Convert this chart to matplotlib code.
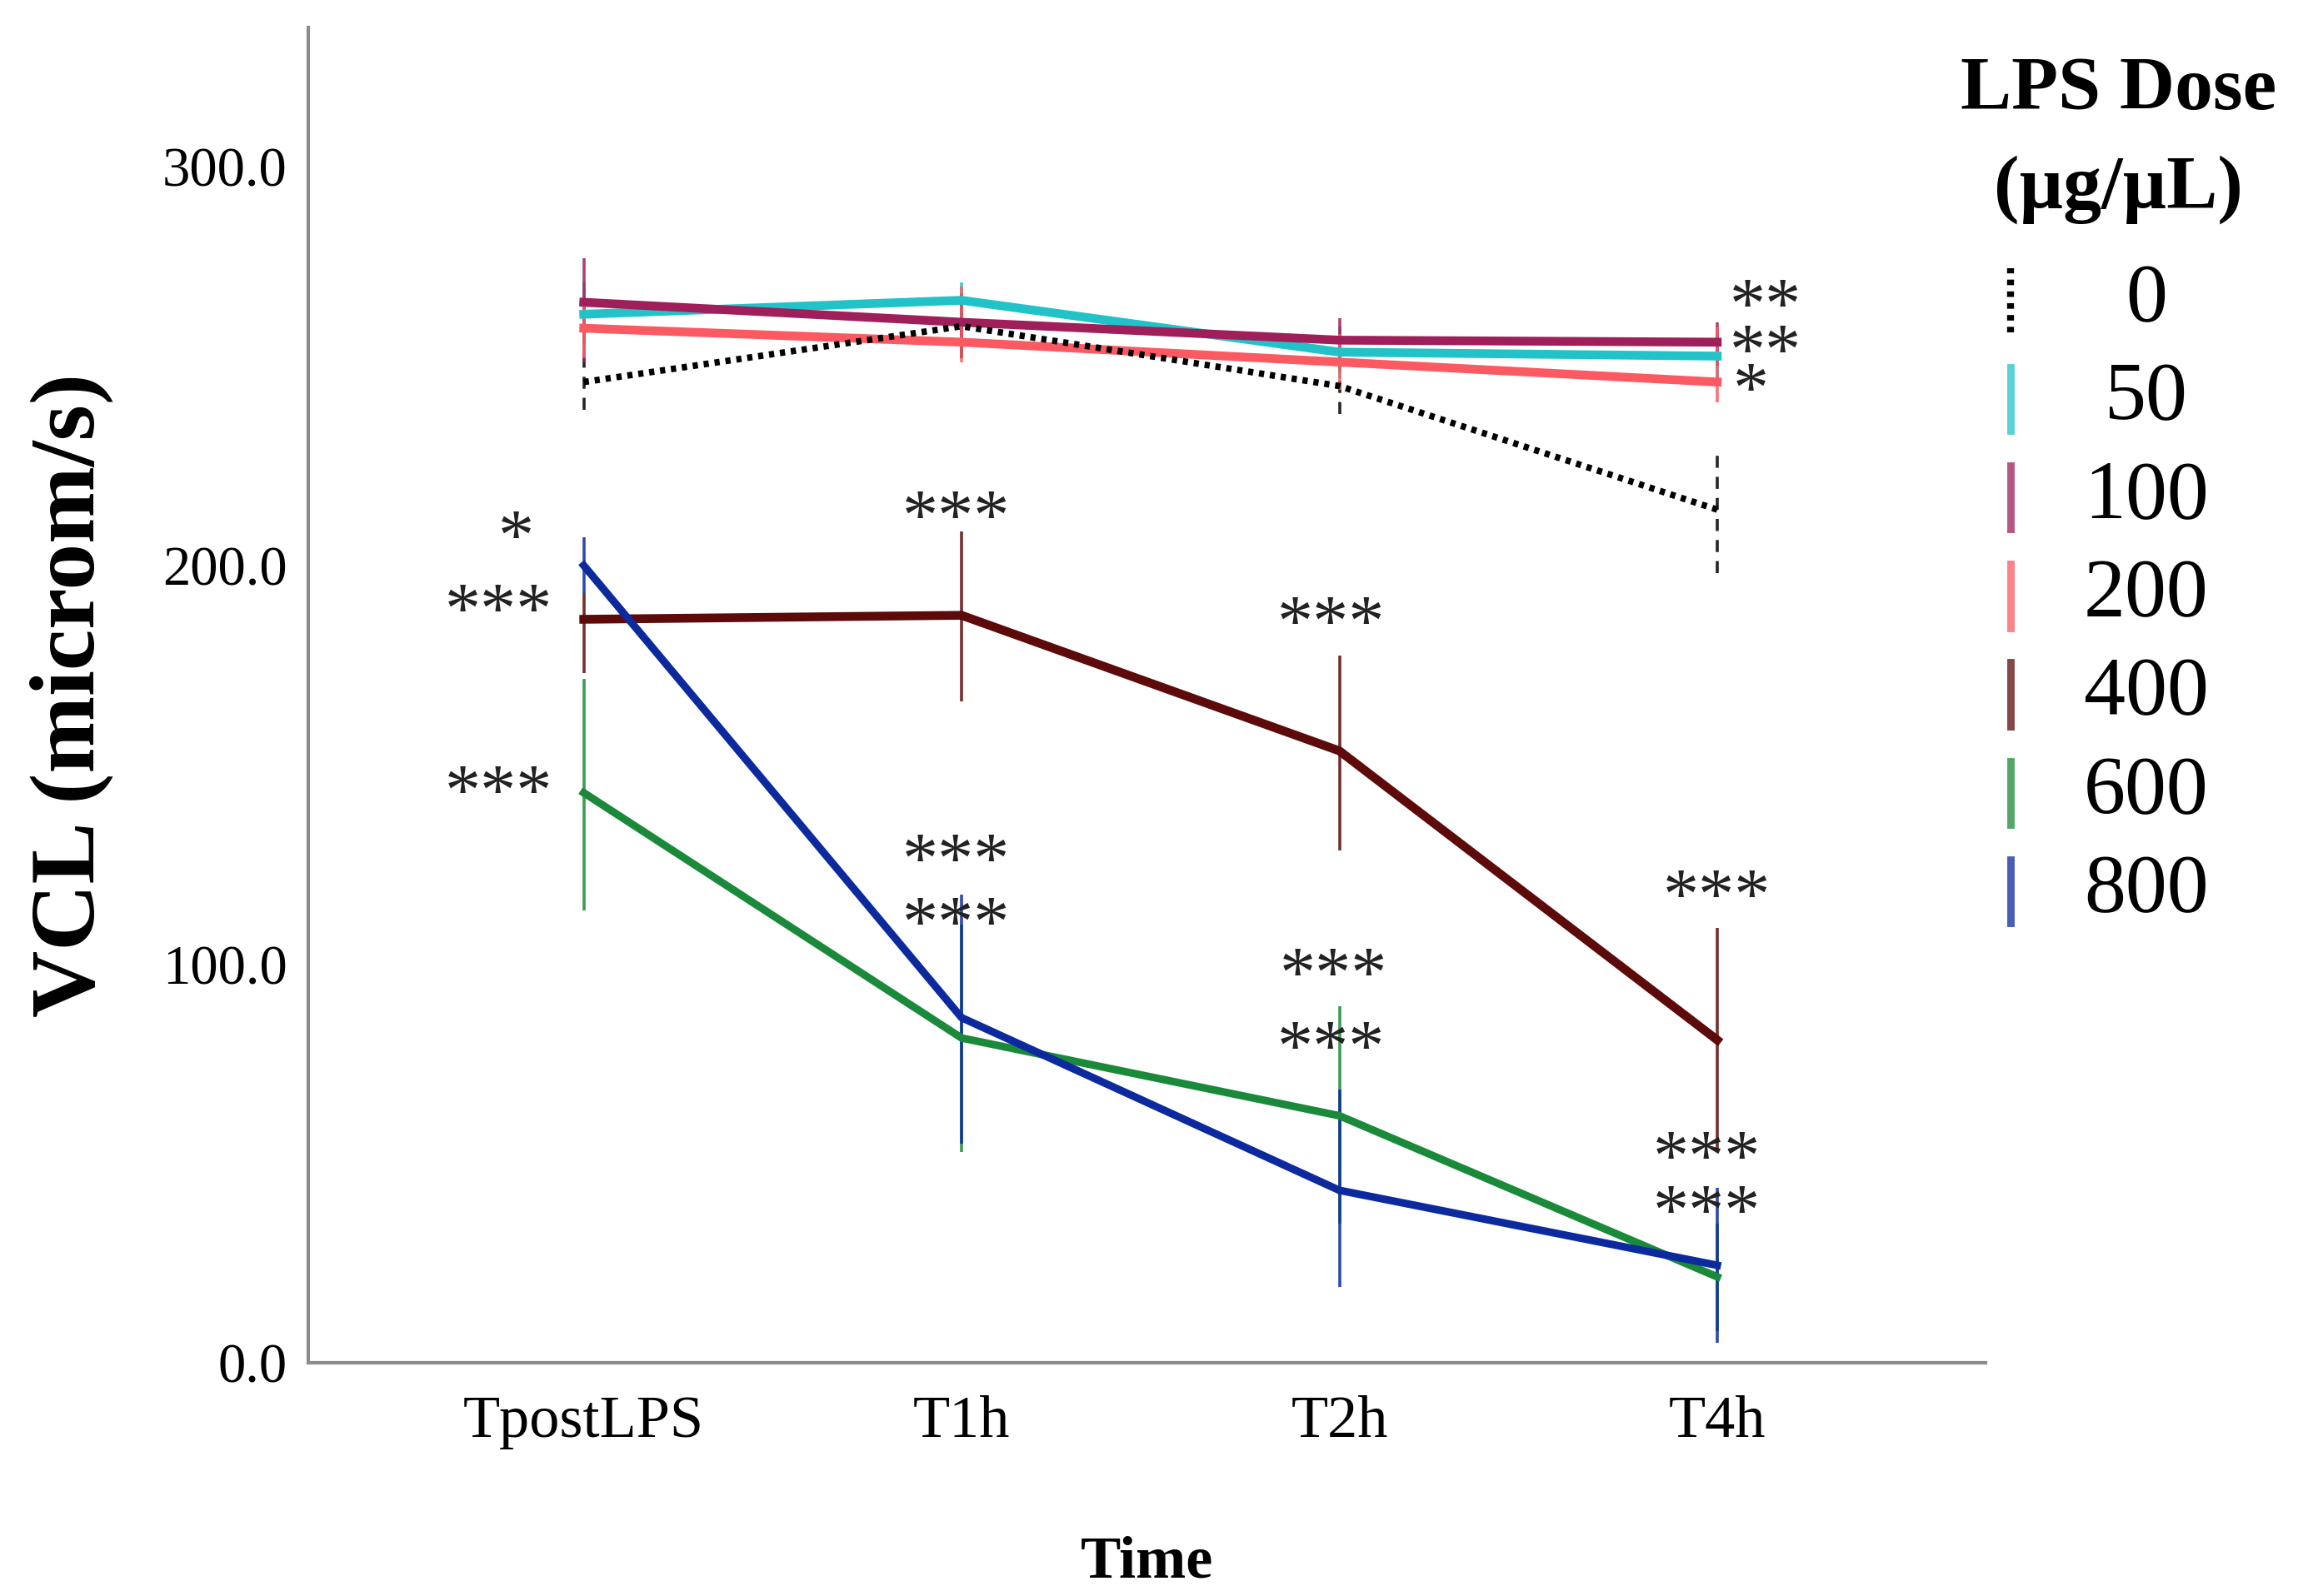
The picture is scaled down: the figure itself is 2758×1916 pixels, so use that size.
import matplotlib.pyplot as plt
from matplotlib.lines import Line2D
import numpy as np

plt.rcParams['font.family'] = ['Liberation Serif', 'DejaVu Serif']

# time points on the x axis
times = ['TpostLPS', 'T1h', 'T2h', 'T4h']

# LPS doses (legend) and colours
doses = ['0', '50', '100', '200', '400', '600', '800']
colors = ['black', '#22c3c8', '#9e1f5a', '#fb5a62', '#5c0a0a', '#1a8a3a', '#0c2a9e']

# mean VCL per dose (microm/s)
vcl_0 = [246, 260, 245, 214]
vcl_50 = [263, 266.5, 253.5, 252.5]
vcl_100 = [266, 261, 256.5, 256]
vcl_200 = [259.5, 256, 251, 246]
vcl_400 = [186.5, 187.5, 153.5, 81]
vcl_600 = [143, 81.5, 62, 21.6]
vcl_800 = [200, 86.6, 43.3, 24.5]

# error bar lower / upper bounds
lo_0 = [239, 252, 238, 198]
hi_0 = [254, 268, 253, 228]
lo_50 = [256, 259, 247, 247]
hi_50 = [271, 271, 260, 258]
lo_100 = [251, 254, 250, 250]
hi_100 = [277, 268, 262, 261]
lo_200 = [252, 251, 244, 241]
hi_200 = [267, 270, 258, 260]
lo_400 = [173, 166, 128.5, 53]
hi_400 = [193, 208.5, 177.5, 109]
lo_600 = [113.5, 53, 35, 8]
hi_600 = [171.5, 110, 89.5, 35]
lo_800 = [193, 55, 19, 5]
hi_800 = [207, 117.5, 68.5, 44]

means = [vcl_0, vcl_50, vcl_100, vcl_200, vcl_400, vcl_600, vcl_800]
lows = [lo_0, lo_50, lo_100, lo_200, lo_400, lo_600, lo_800]
highs = [hi_0, hi_50, hi_100, hi_200, hi_400, hi_600, hi_800]

# significance marks: (x position, y value, text)
stars = [(-0.18, 206, '*'), (-0.225, 187.5, '***'), (-0.225, 142, '***'),
         (0.985, 211, '***'), (0.985, 125, '***'), (0.985, 109, '***'),
         (1.977, 184.5, '***'), (1.984, 96.3, '***'), (1.977, 78, '***'),
         (3.0, 116, '***'), (2.973, 50.4, '***'), (2.973, 36.8, '***'),
         (3.128, 264, '**'), (3.128, 252.6, '**'), (3.09, 243, '*')]

fig = plt.figure(figsize=(13.79, 9.58), dpi=200)
ax = fig.add_axes([0.134, 0.146, 0.730, 0.837])

x = np.arange(len(times))
for i, d in enumerate(doses):
    m = np.array(means[i])
    lo = np.array(lows[i])
    hi = np.array(highs[i])
    eb = ax.errorbar(x, m, yerr=[m - lo, hi - m], fmt='none', ecolor=colors[i],
                     elinewidth=1.3, capsize=0, alpha=0.85, zorder=2)
    if d == '0':
        eb[2][0].set_linestyle((0, (4, 3)))
        ax.plot(x, m, color='black', lw=2.8, ls=(0, (0.8, 0.9)), zorder=4)
    else:
        lw = 3.8 if i <= 4 else 3.3
        ax.plot(x, m, color=colors[i], lw=lw, zorder=3)

for sx, sy, s in stars:
    ax.text(sx, sy, s, fontsize=31, ha='center', va='center', color='#222222')

ax.set_xlim(-0.73, 3.71)
ax.set_ylim(0, 335)
ax.set_xticks(x)
ax.set_xticklabels(times, fontsize=26)
ax.set_yticks([0, 100, 200, 300])
ax.set_yticklabels(['0.0', '100.0', '200.0', '300.0'], fontsize=24)
ax.tick_params(axis='both', length=0)
ax.tick_params(axis='x', pad=14)
ax.tick_params(axis='y', pad=9)

for side in ['top', 'right']:
    ax.spines[side].set_visible(False)
for side in ['left', 'bottom']:
    ax.spines[side].set_color('#8c8c8c')
    ax.spines[side].set_linewidth(1.5)

ax.set_ylabel('VCL (microm/s)', fontsize=40, fontweight='bold')
ax.yaxis.set_label_coords(-0.116, 0.5)
ax.set_xlabel('Time', fontsize=26, fontweight='bold')
ax.xaxis.set_label_coords(0.5, -0.129)

# legend drawn with vertical handle segments
fig.text(0.922, 0.943, 'LPS Dose', fontsize=33, fontweight='bold', ha='center', va='center')
fig.text(0.922, 0.881, '(\u00b5g/\u00b5L)', fontsize=33, fontweight='bold', ha='center', va='center')
for i, d in enumerate(doses):
    yc = 1 - (205 + 67.2 * i) / 1089
    if d == '0':
        h = Line2D([0.875, 0.875], [yc - 0.02, yc + 0.02], color='black', lw=3.0,
                   ls=(0, (0.8, 0.9)), transform=fig.transFigure)
    else:
        h = Line2D([0.875, 0.875], [yc - 0.02, yc + 0.02], color=colors[i], lw=3.2,
                   alpha=0.75, transform=fig.transFigure)
    fig.add_artist(h)
    fig.text(0.934, yc, d, fontsize=36, ha='center', va='center')

fig.savefig('out.png', dpi=200)
